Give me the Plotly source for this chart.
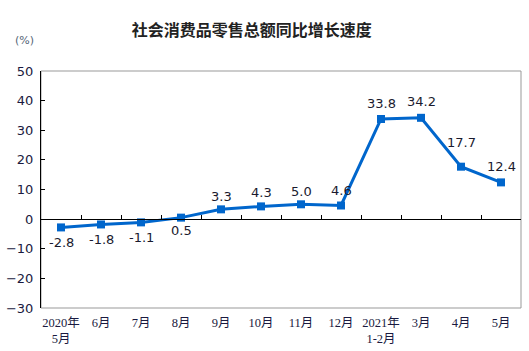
import plotly.graph_objects as go

categories = ["2020年<br>5月", "6月", "7月", "8月", "9月", "10月", "11月", "12月",
              "2021年<br>1-2月", "3月", "4月", "5月"]
growth = [-2.8, -1.8, -1.1, 0.5, 3.3, 4.3, 5.0, 4.6, 33.8, 34.2, 17.7, 12.4]
labels = ["-2.8", "-1.8", "-1.1", "0.5", "3.3", "4.3", "5.0", "4.6", "33.8", "34.2", "17.7", "12.4"]
label_shift = [-15, -15, -15, -13, 13, 14, 13, 15, 15, 16, 24, 16]

blue = "#0066CC"
fig = go.Figure()
fig.add_trace(go.Scatter(
    x=categories, y=growth, mode="lines+markers",
    line=dict(color=blue, width=3),
    marker=dict(symbol="square", size=8, color=blue),
    hoverinfo="skip", showlegend=False, cliponaxis=False))
# dummy trace to build the zero-line axis
fig.add_trace(go.Scatter(
    x=categories, y=growth, xaxis="x2", mode="markers",
    marker=dict(opacity=0), hoverinfo="skip", showlegend=False))

for c, v, t, s in zip(categories, growth, labels, label_shift):
    fig.add_annotation(x=c, y=v, text=t, showarrow=False, yshift=s,
                       font=dict(family="DejaVu Sans", size=13, color="#1a1a2e"))

fig.add_annotation(xref="paper", yref="paper", x=-0.035, y=1.127, text="(%)",
                   xanchor="center", yanchor="middle",
                   showarrow=False, font=dict(family="DejaVu Sans", size=11, color="#556677"))

fig.add_shape(type="rect", xref="paper", yref="paper", x0=0, x1=1, y0=0, y1=1,
              line=dict(color="#999999", width=1), layer="below")

fig.update_layout(
    width=529, height=351,
    margin=dict(l=41, r=8, t=71, b=43, autoexpand=False),
    paper_bgcolor="white", plot_bgcolor="white",
    title=dict(text="<b>社会消费品零售总额同比增长速度</b>", x=0.476, xanchor="center",
               y=1 - 30 / 351, yanchor="middle",
               font=dict(family="Noto Sans CJK SC", size=16, color="#222222")),
    xaxis=dict(type="category", showgrid=False, showline=False, ticks="",
               ticklabelstandoff=5, automargin=False,
               tickfont=dict(family="Liberation Serif, Noto Sans CJK SC", size=12.5, color="#1a1a40"),
               range=[-0.5, 11.5], fixedrange=True),
    xaxis2=dict(type="category", overlaying="x", anchor="free", position=0.375, side="bottom",
                showline=True, linecolor="black", linewidth=1, ticks="inside", ticklen=4,
                tickcolor="black", tickson="boundaries", showticklabels=False, automargin=False,
                showgrid=False, range=[-0.5, 11.5]),
    yaxis=dict(range=[-30, 50], dtick=10, showgrid=False, zeroline=False, automargin=False,
               showline=True, linecolor="black", linewidth=1,
               ticks="inside", ticklen=4, tickcolor="black", ticklabelstandoff=4,
               tickfont=dict(family="DejaVu Sans", size=13, color="#1a1a40")),
)

fig.write_html("out.html")
